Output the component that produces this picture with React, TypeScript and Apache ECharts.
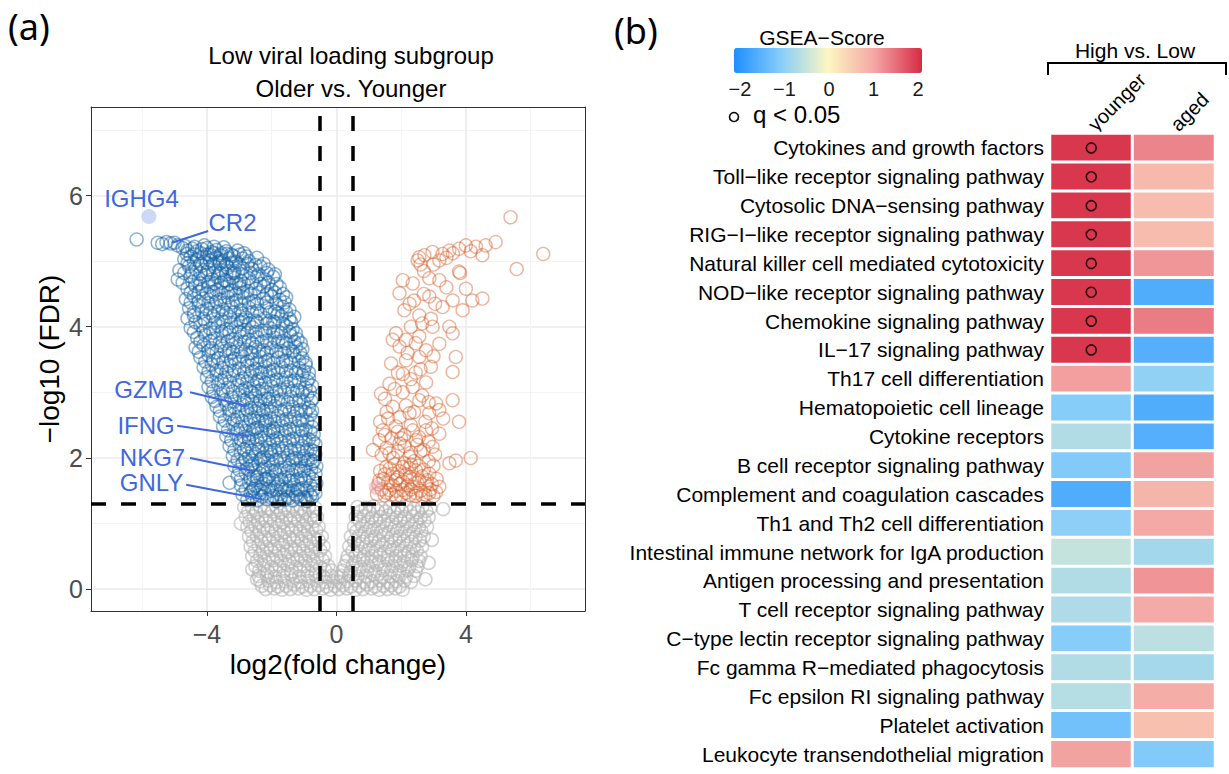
import React, { useEffect, useRef } from "react";
import * as echarts from "echarts";

const FONT = "'Liberation Sans', Arial, sans-serif";

// ---------- Panel (a): volcano plot data (log2FC, -log10 FDR) ----------
const downGenes: number[][] = [
  [-6.17,5.33],[-5.52,5.28],[-5.38,5.26],[-5.25,5.29],[-5.12,5.27],[-5.0,5.28],[-4.9,5.24],
  [-4.68,5.23],[-4.38,5.22],[-4.08,5.24],[-3.78,5.22],[-3.48,5.21],
  [-4.75,5.2],[-4.6,5.16],[-4.45,5.19],[-4.3,5.15],[-4.15,5.18],[-4.0,5.2],[-3.85,5.14],[-3.7,5.17],[-3.55,5.12],[-3.4,5.15],[-3.25,5.1],[-3.05,5.16],[-2.85,5.12],
  [-4.62,5.11],[-4.38,5.1],[-4.18,5.12],[-3.98,5.1],[-3.78,5.12],[-3.58,5.09],[-3.38,5.11],[-3.18,5.08],[-2.98,5.1],[-2.78,5.07],
  [-4.7,5.03],[-4.5,5.07],[-4.3,5.02],[-4.1,5.06],[-3.9,5.01],[-3.7,5.05],[-3.5,5.0],[-3.3,5.04],[-3.1,4.99],[-2.9,5.04],[-2.7,5.0],[-2.45,5.05],
  [-4.6,4.97],[-4.4,4.98],[-4.2,4.96],[-4.0,4.98],[-3.8,4.96],[-3.6,4.97],[-3.4,4.95],[-3.2,4.97],[-3.0,4.95],[-2.75,4.96],[-2.5,4.94],[-2.25,4.96],
  [-4.85,4.86],[-4.55,4.92],[-4.35,4.88],[-4.15,4.93],[-3.95,4.87],[-3.75,4.91],[-3.55,4.86],[-3.35,4.9],[-3.15,4.85],[-2.9,4.89],[-2.6,4.88],[-2.35,4.92],[-2.1,4.87],
  [-4.7,4.82],[-4.45,4.83],[-4.2,4.81],[-4.0,4.83],[-3.8,4.81],[-3.6,4.82],[-3.4,4.8],[-3.15,4.82],[-2.9,4.8],[-2.65,4.82],[-2.4,4.8],[-2.15,4.82],[-1.9,4.8],
  [-4.9,4.72],[-4.5,4.77],[-4.25,4.73],[-4.05,4.78],[-3.85,4.72],[-3.65,4.76],[-3.45,4.71],[-3.2,4.75],[-2.95,4.7],[-2.7,4.74],[-2.45,4.77],[-2.2,4.72],[-1.95,4.76],
  [-4.75,4.67],[-4.45,4.68],[-4.2,4.66],[-3.95,4.68],[-3.75,4.66],[-3.55,4.67],[-3.3,4.65],[-3.1,4.67],[-2.85,4.65],[-2.6,4.67],[-2.35,4.65],[-2.1,4.67],[-1.85,4.65],
  [-4.6,4.58],[-4.35,4.62],[-4.15,4.57],[-3.95,4.61],[-3.7,4.56],[-3.5,4.6],[-3.25,4.55],[-3.0,4.59],[-2.75,4.54],[-2.5,4.58],[-2.25,4.61],[-2.0,4.56],[-1.75,4.6],
  [-4.5,4.52],[-4.25,4.53],[-4.0,4.51],[-3.8,4.53],[-3.55,4.51],[-3.35,4.52],[-3.1,4.5],[-2.9,4.52],[-2.65,4.5],[-2.4,4.52],[-2.15,4.5],[-1.9,4.52],[-1.65,4.5],
  [-4.65,4.42],[-4.4,4.47],[-4.1,4.43],[-3.85,4.46],[-3.6,4.41],[-3.35,4.45],[-3.1,4.4],[-2.85,4.44],[-2.55,4.39],[-2.25,4.43],[-2.0,4.46],[-1.75,4.41],[-1.55,4.45],
  [-4.5,4.37],[-4.25,4.38],[-3.95,4.36],[-3.7,4.38],[-3.45,4.36],[-3.2,4.37],[-2.95,4.35],[-2.7,4.37],[-2.45,4.35],[-2.15,4.37],[-1.85,4.35],[-1.6,4.37],
  [-4.55,4.28],[-4.25,4.32],[-4.0,4.27],[-3.75,4.31],[-3.5,4.26],[-3.25,4.3],[-2.95,4.25],[-2.7,4.29],[-2.45,4.24],[-2.15,4.28],[-1.9,4.23],[-1.65,4.3],[-1.45,4.26],
  [-4.4,4.22],[-4.15,4.23],[-3.9,4.21],[-3.65,4.23],[-3.4,4.21],[-3.15,4.22],[-2.9,4.2],[-2.6,4.22],[-2.35,4.2],[-2.05,4.22],[-1.8,4.2],[-1.55,4.22],
  [-4.6,4.13],[-4.4,4.17],[-4.1,4.12],[-3.8,4.16],[-3.55,4.11],[-3.3,4.15],[-3.05,4.1],[-2.8,4.14],[-2.5,4.09],[-2.2,4.13],[-1.95,4.08],[-1.7,4.16],[-1.45,4.12],[-1.3,4.15],
  [-4.35,4.07],[-4.05,4.08],[-3.75,4.06],[-3.5,4.08],[-3.25,4.06],[-2.95,4.07],[-2.7,4.05],[-2.45,4.07],[-2.15,4.05],[-1.9,4.07],[-1.65,4.05],[-1.4,4.07],
  [-4.5,3.98],[-4.2,4.02],[-3.9,3.97],[-3.65,4.01],[-3.4,3.96],[-3.1,4.0],[-2.85,3.95],[-2.6,3.99],[-2.3,3.94],[-2.05,3.98],[-1.8,3.93],[-1.55,4.01],[-1.35,3.96],
  [-4.4,3.92],[-4.1,3.93],[-3.8,3.91],[-3.55,3.93],[-3.3,3.91],[-3.0,3.92],[-2.75,3.9],[-2.5,3.92],[-2.2,3.9],[-1.95,3.92],[-1.7,3.9],[-1.45,3.92],[-1.25,3.9],
  [-4.3,3.83],[-4.05,3.87],[-3.75,3.82],[-3.5,3.86],[-3.2,3.81],[-2.95,3.85],[-2.7,3.8],[-2.45,3.84],[-2.15,3.79],[-1.9,3.83],[-1.65,3.78],[-1.4,3.86],[-1.2,3.81],
  [-4.2,3.77],[-3.9,3.78],[-3.6,3.76],[-3.35,3.78],[-3.1,3.76],[-2.85,3.77],[-2.6,3.75],[-2.3,3.77],[-2.05,3.75],[-1.8,3.77],[-1.55,3.75],[-1.3,3.77],[-1.1,3.75],
  [-4.35,3.68],[-4.1,3.72],[-3.85,3.67],[-3.55,3.71],[-3.3,3.66],[-3.05,3.7],[-2.8,3.65],[-2.5,3.69],[-2.25,3.64],[-2.0,3.68],[-1.7,3.63],[-1.5,3.67],[-1.25,3.69],[-1.05,3.66],
  [-4.25,3.62],[-3.95,3.63],[-3.7,3.61],[-3.45,3.63],[-3.2,3.61],[-2.95,3.62],[-2.65,3.6],[-2.4,3.62],[-2.15,3.6],[-1.85,3.62],[-1.6,3.6],[-1.35,3.62],[-1.12,3.6],
  [-4.2,3.53],[-3.95,3.57],[-3.65,3.52],[-3.4,3.56],[-3.15,3.51],[-2.9,3.55],[-2.6,3.5],[-2.35,3.54],[-2.1,3.49],[-1.8,3.53],[-1.55,3.48],[-1.3,3.56],[-1.05,3.52],
  [-4.05,3.47],[-3.8,3.48],[-3.5,3.46],[-3.25,3.48],[-3.0,3.46],[-2.75,3.47],[-2.45,3.45],[-2.2,3.47],[-1.95,3.45],[-1.65,3.47],[-1.4,3.45],[-1.15,3.47],[-0.95,3.45],
  [-4.1,3.38],[-3.85,3.42],[-3.55,3.37],[-3.3,3.41],[-3.0,3.36],[-2.75,3.4],[-2.5,3.35],[-2.2,3.39],[-1.95,3.34],[-1.7,3.38],[-1.4,3.33],[-1.15,3.37],[-0.95,3.41],
  [-3.95,3.32],[-3.7,3.33],[-3.4,3.31],[-3.15,3.33],[-2.85,3.31],[-2.6,3.32],[-2.35,3.3],[-2.05,3.32],[-1.8,3.3],[-1.55,3.32],[-1.25,3.3],[-1.0,3.32],[-0.85,3.3],
  [-4.0,3.23],[-3.7,3.27],[-3.45,3.22],[-3.2,3.26],[-2.9,3.21],[-2.65,3.25],[-2.4,3.2],[-2.1,3.24],[-1.85,3.19],[-1.55,3.23],[-1.3,3.18],[-1.05,3.26],[-0.85,3.21],
  [-3.85,3.17],[-3.55,3.18],[-3.3,3.16],[-3.0,3.18],[-2.75,3.16],[-2.45,3.17],[-2.2,3.15],[-1.95,3.17],[-1.65,3.15],[-1.4,3.17],[-1.15,3.15],[-0.9,3.17],
  [-3.95,3.08],[-3.65,3.12],[-3.35,3.07],[-3.05,3.11],[-2.8,3.06],[-2.55,3.1],[-2.3,3.05],[-2.0,3.09],[-1.75,3.04],[-1.5,3.08],[-1.2,3.03],[-0.95,3.07],[-0.75,3.1],
  [-3.8,3.02],[-3.5,3.03],[-3.2,3.01],[-2.9,3.03],[-2.65,3.01],[-2.4,3.02],[-2.15,3.0],[-1.85,3.02],[-1.6,3.0],[-1.35,3.02],[-1.05,3.0],[-0.82,3.02],
  [-3.85,2.93],[-3.55,2.97],[-3.25,2.92],[-3.0,2.96],[-2.75,2.91],[-2.5,2.95],[-2.2,2.9],[-1.95,2.94],[-1.7,2.89],[-1.4,2.93],[-1.15,2.88],[-0.9,2.95],[-0.72,2.91],
  [-3.75,2.87],[-3.45,2.88],[-3.15,2.86],[-2.85,2.88],[-2.6,2.86],[-2.35,2.87],[-2.05,2.85],[-1.8,2.87],[-1.5,2.85],[-1.25,2.87],[-1.0,2.85],[-0.78,2.87],
  [-3.7,2.78],[-3.4,2.82],[-3.15,2.77],[-2.9,2.81],[-2.65,2.76],[-2.4,2.8],[-2.15,2.75],[-1.9,2.79],[-1.6,2.74],[-1.35,2.78],[-1.1,2.73],[-0.85,2.77],
  [-3.6,2.72],[-3.3,2.73],[-3.0,2.71],[-2.75,2.73],[-2.5,2.71],[-2.25,2.72],[-2.0,2.7],[-1.7,2.72],[-1.45,2.7],[-1.2,2.72],[-0.95,2.7],[-0.75,2.72],
  [-3.6,2.63],[-3.3,2.67],[-3.05,2.62],[-2.8,2.66],[-2.55,2.61],[-2.3,2.65],[-2.05,2.6],[-1.8,2.64],[-1.55,2.59],[-1.3,2.63],[-1.05,2.58],[-0.8,2.66],
  [-3.45,2.57],[-3.15,2.58],[-2.9,2.56],[-2.65,2.58],[-2.4,2.56],[-2.15,2.57],[-1.9,2.55],[-1.65,2.57],[-1.4,2.55],[-1.15,2.57],[-0.9,2.55],[-0.72,2.57],
  [-3.5,2.48],[-3.2,2.52],[-2.95,2.47],[-2.7,2.51],[-2.45,2.46],[-2.2,2.5],[-1.95,2.45],[-1.7,2.49],[-1.45,2.44],[-1.2,2.48],[-0.95,2.43],[-0.75,2.47],
  [-3.35,2.42],[-3.05,2.43],[-2.8,2.41],[-2.55,2.43],[-2.3,2.41],[-2.05,2.42],[-1.8,2.4],[-1.55,2.42],[-1.3,2.4],[-1.05,2.42],[-0.8,2.4],
  [-3.4,2.33],[-3.1,2.37],[-2.85,2.32],[-2.6,2.36],[-2.35,2.31],[-2.1,2.35],[-1.85,2.3],[-1.6,2.34],[-1.35,2.29],[-1.1,2.33],[-0.85,2.28],[-0.7,2.36],
  [-3.25,2.27],[-2.95,2.28],[-2.7,2.26],[-2.45,2.28],[-2.2,2.26],[-1.95,2.27],[-1.7,2.25],[-1.45,2.27],[-1.2,2.25],[-0.95,2.27],[-0.72,2.25],
  [-3.3,2.18],[-3.0,2.22],[-2.75,2.17],[-2.5,2.21],[-2.3,2.16],[-2.05,2.2],[-1.8,2.15],[-1.55,2.19],[-1.3,2.14],[-1.05,2.18],[-0.8,2.13],[-0.65,2.21],
  [-3.15,2.12],[-2.85,2.13],[-2.6,2.11],[-2.4,2.13],[-2.15,2.11],[-1.9,2.12],[-1.65,2.1],[-1.4,2.12],[-1.15,2.1],[-0.9,2.12],[-0.7,2.1],
  [-3.2,2.03],[-2.95,2.07],[-2.7,2.02],[-2.5,2.06],[-2.25,2.01],[-2.0,2.05],[-1.75,2.0],[-1.5,2.04],[-1.25,1.99],[-1.0,2.03],[-0.8,1.98],[-0.65,2.06],
  [-3.05,1.97],[-2.8,1.98],[-2.6,1.96],[-2.35,1.98],[-2.1,1.96],[-1.85,1.97],[-1.6,1.95],[-1.35,1.97],[-1.1,1.95],[-0.88,1.97],[-0.7,1.95],
  [-3.15,1.88],[-2.9,1.92],[-2.65,1.87],[-2.4,1.91],[-2.2,1.86],[-1.95,1.9],[-1.7,1.85],[-1.45,1.89],[-1.2,1.84],[-0.95,1.88],[-0.75,1.91],[-0.62,1.87],
  [-3.0,1.82],[-2.75,1.83],[-2.5,1.81],[-2.25,1.83],[-2.0,1.81],[-1.75,1.82],[-1.5,1.8],[-1.25,1.82],[-1.0,1.8],[-0.78,1.82],
  [-3.05,1.73],[-2.8,1.77],[-2.55,1.72],[-2.35,1.76],[-2.1,1.71],[-1.85,1.75],[-1.6,1.7],[-1.35,1.74],[-1.1,1.69],[-0.85,1.73],[-0.65,1.76],
  [-2.95,1.67],[-2.65,1.68],[-2.45,1.66],[-2.2,1.68],[-1.95,1.66],[-1.7,1.67],[-1.45,1.65],[-1.2,1.67],[-0.95,1.65],[-0.72,1.67],
  [-3.3,1.62],[-2.95,1.58],[-2.7,1.62],[-2.5,1.57],[-2.25,1.61],[-2.05,1.56],[-1.8,1.6],[-1.55,1.55],[-1.3,1.59],[-1.05,1.54],[-0.8,1.58],[-0.62,1.61],
  [-2.8,1.52],[-2.55,1.53],[-2.35,1.51],[-2.1,1.53],[-1.85,1.51],[-1.6,1.52],[-1.35,1.5],[-1.1,1.52],[-0.9,1.5],[-0.7,1.52],
  [-2.9,1.44],[-2.65,1.47],[-2.4,1.43],[-2.2,1.46],[-1.95,1.42],[-1.75,1.45],[-1.5,1.41],[-1.25,1.44],[-1.0,1.4],[-0.8,1.43],[-0.65,1.46],
  [-2.6,1.4],[-2.3,1.41],[-2.0,1.39],[-1.7,1.4],[-1.45,1.39],[-1.2,1.41],[-0.95,1.39],[-0.75,1.4],
  [-2.75,1.36],[-2.45,1.35],[-2.15,1.37],[-1.85,1.34],[-1.6,1.36],[-1.35,1.35],[-1.1,1.37],[-0.9,1.34],
  [-2.6,1.5],[-2.3,1.55],[-2.0,1.5],[-1.7,1.55],[-2.45,1.7],[-2.15,1.68],[-1.9,1.8],[-2.6,1.9],[-2.3,2.0],[-2.05,2.1],
  [-2.7,2.3],[-2.5,2.45],[-2.2,2.55],[-1.95,2.4],[-2.4,2.75],[-2.1,2.9],[-2.6,3.0],[-3.0,4.65],[-3.2,4.82],[-3.6,5.0],
  [-3.9,5.1],[-3.4,4.7],[-2.9,4.1],[-2.6,3.6],[-2.3,3.3],[-1.5,1.5],[-1.2,1.52],[-1.4,1.65],[-1.1,1.8],[-1.3,2.0]
];

const upGenes: number[][] = [
  [5.38,5.67],[6.39,5.11],[5.57,4.88],[4.92,5.29],[4.61,5.24],[4.31,5.22],[4.0,5.24],[3.79,5.19],[3.49,5.16],
  [3.28,5.11],[2.97,5.14],[2.72,5.09],[2.51,5.01],[2.56,5.06],[3.18,5.01],[4.51,5.09],[3.79,4.84],[3.82,4.82],
  [4.0,4.58],[4.51,4.43],[4.2,4.4],[2.05,4.71],[1.95,4.51],[2.36,4.66],[2.87,4.74],[3.18,4.71],[2.87,4.46],
  [2.26,4.35],[2.56,4.17],[2.92,4.12],[3.28,4.3],[3.59,4.4],[3.9,4.25],[1.84,3.9],[1.74,3.8],[2.15,3.8],
  [2.56,3.85],[2.97,4.0],[3.49,4.0],[3.59,3.9],[2.77,3.64],[3.18,3.74],[3.69,3.54],[1.69,3.44],[2.15,3.49],
  [2.56,3.54],[2.92,3.39],[3.59,3.31],[1.64,3.13],[2.05,3.28],[2.36,3.08],[2.77,3.15],[1.38,2.98],[2.05,3.0],
  [2.56,2.88],[3.08,2.83],[3.59,2.88],[1.74,2.78],[2.26,2.68],[2.87,2.68],[3.18,2.73],[3.79,2.55],[1.43,2.42],
  [1.84,2.48],[2.36,2.42],[2.77,2.42],[3.18,2.37],[1.33,2.27],[1.95,2.22],[2.46,2.27],[2.97,2.17],[1.13,2.12],
  [1.64,2.07],[2.26,2.02],[3.49,1.92],[4.15,2.0],[3.69,1.96],[1.54,1.86],[2.05,1.86],[2.46,1.81],[2.87,1.76],
  [1.33,1.66],[1.84,1.66],[2.26,1.71],[2.77,1.61],[3.18,1.56],[1.64,1.51],[2.05,1.51],[2.46,1.46],[2.87,1.46],
  [1.49,1.43],[1.84,1.41],[2.26,1.43],[2.67,1.41],[3.08,1.48],[1.95,1.6],[2.36,1.56],[2.15,1.75],[1.74,1.76],
  [2.56,1.66],[2.0,2.3],[2.6,2.1],[2.3,1.9],[1.6,2.6],[2.45,3.3],[3.0,3.55],[2.3,4.0],[2.7,4.5],[3.4,4.6],
  [1.25,1.45],[1.4,1.52],[1.55,1.47],[1.7,1.44],[1.85,1.5],[2.0,1.42],[2.15,1.47],[2.3,1.52],[2.45,1.42],[2.6,1.5],[2.75,1.44],[2.9,1.52],[3.0,1.42],
  [1.3,1.6],[1.45,1.68],[1.6,1.62],[1.75,1.58],[1.9,1.7],[2.05,1.64],[2.2,1.58],[2.35,1.68],[2.5,1.62],[2.65,1.72],[2.8,1.66],[2.95,1.6],[3.1,1.68],
  [1.35,1.8],[1.5,1.75],[1.65,1.84],[1.8,1.9],[1.95,1.8],[2.1,1.92],[2.25,1.85],[2.4,1.95],[2.55,1.88],[2.7,1.82],[2.85,1.95],[3.0,1.88],
  [1.4,2.05],[1.55,2.15],[1.75,2.0],[1.9,2.1],[2.1,2.18],[2.3,2.08],[2.5,2.2],[2.7,2.12],[2.85,2.25],[3.05,2.05],
  [1.5,2.35],[1.7,2.3],[1.9,2.4],[2.1,2.35],[2.3,2.5],[2.55,2.32],[2.75,2.55],[2.95,2.45],[1.35,2.55],
  [1.55,2.7],[1.95,2.62],[2.15,2.8],[2.4,2.7],[2.65,2.95],[2.85,2.85],[3.3,2.6],[1.5,2.9],[1.8,3.05],[2.3,3.2],
  [2.6,3.35],[1.9,3.3],[2.2,3.6],[2.45,3.75],[1.95,3.7],[2.65,4.05],[2.1,4.25],[2.4,4.4],[3.05,4.35],[2.7,4.85],
  [3.4,5.05],[3.6,5.12],[4.15,5.15],[2.6,4.95],[3.0,4.95]
];

const nsGenes: number[][] = [
  [-2.85,1.25],[-2.6,1.24],[-2.35,1.26],[-2.1,1.23],[-1.85,1.25],[-1.6,1.24],[-1.35,1.26],[-1.1,1.23],[-0.85,1.25],[-0.65,1.24],
  [-2.72,1.18],[-2.48,1.17],[-2.22,1.19],[-1.98,1.18],[-1.72,1.17],[-1.48,1.19],[-1.22,1.18],[-0.98,1.17],[-0.72,1.19],
  [-2.8,1.1],[-2.55,1.11],[-2.3,1.09],[-2.05,1.1],[-1.8,1.12],[-1.55,1.09],[-1.3,1.1],[-1.05,1.11],[-0.8,1.09],[-0.6,1.1],
  [-2.68,1.03],[-2.42,1.02],[-2.18,1.04],[-1.92,1.03],[-1.68,1.02],[-1.42,1.04],[-1.18,1.03],[-0.92,1.02],[-0.68,1.04],
  [-2.75,0.95],[-2.5,0.96],[-2.25,0.94],[-2.0,0.95],[-1.75,0.97],[-1.5,0.94],[-1.25,0.95],[-1.0,0.96],[-0.75,0.94],[-0.55,0.95],
  [-2.62,0.88],[-2.38,0.87],[-2.12,0.89],[-1.88,0.88],[-1.62,0.87],[-1.38,0.89],[-1.12,0.88],[-0.88,0.87],[-0.62,0.89],
  [-2.7,0.8],[-2.45,0.81],[-2.2,0.79],[-1.95,0.8],[-1.7,0.82],[-1.45,0.79],[-1.2,0.8],[-0.95,0.81],[-0.7,0.79],[-0.45,0.8],
  [-2.58,0.73],[-2.32,0.72],[-2.08,0.74],[-1.82,0.73],[-1.58,0.72],[-1.32,0.74],[-1.08,0.73],[-0.82,0.72],[-0.55,0.74],
  [-2.65,0.65],[-2.4,0.66],[-2.15,0.64],[-1.9,0.65],[-1.65,0.67],[-1.4,0.64],[-1.15,0.65],[-0.9,0.66],[-0.65,0.64],[-0.4,0.65],
  [-2.52,0.58],[-2.28,0.57],[-2.02,0.59],[-1.78,0.58],[-1.52,0.57],[-1.28,0.59],[-1.02,0.58],[-0.78,0.57],[-0.5,0.59],
  [-2.6,0.5],[-2.35,0.51],[-2.1,0.49],[-1.85,0.5],[-1.6,0.52],[-1.35,0.49],[-1.1,0.5],[-0.85,0.51],[-0.6,0.49],[-0.35,0.5],
  [-2.45,0.43],[-2.2,0.42],[-1.95,0.44],[-1.7,0.43],[-1.45,0.42],[-1.2,0.44],[-0.95,0.43],[-0.7,0.42],[-0.42,0.44],
  [-2.5,0.35],[-2.25,0.36],[-2.0,0.34],[-1.75,0.35],[-1.5,0.37],[-1.25,0.34],[-1.0,0.35],[-0.75,0.36],[-0.5,0.34],[-0.25,0.35],
  [-2.38,0.28],[-2.12,0.27],[-1.88,0.29],[-1.62,0.28],[-1.38,0.27],[-1.12,0.29],[-0.88,0.28],[-0.62,0.27],[-0.35,0.29],[-0.15,0.28],
  [-2.4,0.2],[-2.15,0.21],[-1.9,0.19],[-1.65,0.2],[-1.4,0.22],[-1.15,0.19],[-0.9,0.2],[-0.65,0.21],[-0.4,0.19],[-0.15,0.2],[0.05,0.18],
  [-2.35,0.12],[-2.1,0.13],[-1.85,0.11],[-1.6,0.12],[-1.35,0.13],[-1.1,0.11],[-0.85,0.12],[-0.6,0.13],[-0.35,0.11],[-0.1,0.12],
  [0.12,0.11],[0.35,0.12],[0.6,0.13],[0.85,0.11],[1.1,0.12],[1.35,0.13],[1.6,0.11],[1.85,0.12],[2.1,0.13],[2.3,0.11],
  [-2.3,0.05],[-2.05,0.06],[-1.8,0.04],[-1.55,0.05],[-1.3,0.07],[-1.05,0.04],[-0.8,0.05],[-0.55,0.06],[-0.3,0.04],[-0.05,0.05],
  [0.2,0.06],[0.45,0.04],[0.7,0.05],[0.95,0.07],[1.2,0.04],[1.45,0.05],[1.7,0.06],[1.95,0.04],
  [-2.18,0.0],[-1.92,0.01],[-1.68,-0.01],[-1.42,0.0],[-1.18,0.01],[-0.92,-0.01],[-0.68,0.0],[-0.42,0.01],[-0.18,-0.01],
  [0.08,0.0],[0.32,0.01],[0.58,-0.01],[0.82,0.0],[1.08,0.01],[1.32,-0.01],[1.58,0.0],[1.82,0.01],[2.05,-0.01],
  [0.65,1.25],[0.9,1.24],[1.15,1.26],[1.4,1.23],[1.65,1.25],[1.9,1.24],[2.15,1.26],[2.4,1.23],[2.65,1.25],[2.9,1.24],
  [0.75,1.18],[1.02,1.17],[1.28,1.19],[1.52,1.18],[1.78,1.17],[2.02,1.19],[2.28,1.18],[2.52,1.17],[2.78,1.19],
  [0.6,1.1],[0.85,1.11],[1.1,1.09],[1.35,1.1],[1.6,1.12],[1.85,1.09],[2.1,1.1],[2.35,1.11],[2.6,1.09],[2.85,1.1],
  [0.72,1.03],[0.98,1.02],[1.22,1.04],[1.48,1.03],[1.72,1.02],[1.98,1.04],[2.22,1.03],[2.48,1.02],[2.72,1.04],
  [0.55,0.95],[0.8,0.96],[1.05,0.94],[1.3,0.95],[1.55,0.97],[1.8,0.94],[2.05,0.95],[2.3,0.96],[2.55,0.94],[2.8,0.95],
  [0.62,0.88],[0.88,0.87],[1.12,0.89],[1.38,0.88],[1.62,0.87],[1.88,0.89],[2.12,0.88],[2.38,0.87],[2.62,0.89],
  [0.45,0.8],[0.7,0.81],[0.95,0.79],[1.2,0.8],[1.45,0.82],[1.7,0.79],[1.95,0.8],[2.2,0.81],[2.45,0.79],[2.7,0.8],
  [0.55,0.73],[0.82,0.72],[1.08,0.74],[1.32,0.73],[1.58,0.72],[1.82,0.74],[2.08,0.73],[2.32,0.72],[2.58,0.74],
  [0.4,0.65],[0.65,0.66],[0.9,0.64],[1.15,0.65],[1.4,0.67],[1.65,0.64],[1.9,0.65],[2.15,0.66],[2.4,0.64],[2.65,0.65],
  [0.5,0.58],[0.72,0.57],[0.98,0.59],[1.22,0.58],[1.48,0.57],[1.72,0.59],[1.98,0.58],[2.22,0.57],[2.48,0.59],
  [0.35,0.5],[0.6,0.51],[0.85,0.49],[1.1,0.5],[1.35,0.52],[1.6,0.49],[1.85,0.5],[2.1,0.51],[2.35,0.49],[2.6,0.5],
  [0.32,0.43],[0.58,0.42],[0.82,0.44],[1.08,0.43],[1.32,0.42],[1.58,0.44],[1.82,0.43],[2.08,0.42],[2.32,0.44],[2.55,0.43],
  [0.25,0.35],[0.5,0.36],[0.75,0.34],[1.0,0.35],[1.25,0.37],[1.5,0.34],[1.75,0.35],[2.0,0.36],[2.25,0.34],[2.5,0.35],
  [0.2,0.28],[0.45,0.27],[0.7,0.29],[0.95,0.28],[1.2,0.27],[1.45,0.29],[1.7,0.28],[1.95,0.27],[2.2,0.29],[2.45,0.28],
  [0.15,0.2],[0.4,0.21],[0.65,0.19],[0.9,0.2],[1.15,0.22],[1.4,0.19],[1.65,0.2],[1.9,0.21],[2.15,0.19],[2.4,0.2],
  [3.3,1.22],[2.95,0.75],[2.85,0.4],[-2.95,1.0],[-2.45,0.15],[2.75,0.15],[-2.6,0.3]
];

const highlightedDown: number[][] = [[-5.79, 5.68]];
const highlightedUp: number[][] = [[1.23, 1.55]];

// label centre and connector (from, to), all in data coordinates
const geneLabels = [
  { name: "IGHG4", at: [-6.02, 5.95], from: null, to: null },
  { name: "CR2", at: [-3.21, 5.59], from: [-3.96, 5.46], to: [-5.08, 5.28] },
  { name: "GZMB", at: [-5.79, 3.04], from: [-4.52, 3.0], to: [-2.77, 2.79] },
  { name: "IFNG", at: [-5.88, 2.49], from: [-4.92, 2.49], to: [-2.7, 2.33] },
  { name: "NKG7", at: [-5.68, 2.0], from: [-4.52, 2.0], to: [-2.57, 1.8] },
  { name: "GNLY", at: [-5.71, 1.62], from: [-4.64, 1.59], to: [-2.3, 1.37] },
];

const log2fcCut = 0.5;
const fdrCut = 1.301;
const xTicks = [-4, 0, 4];
const yTicks = [0, 2, 4, 6];

// ---------- Panel (b): GSEA heatmap ----------
const groups = ["younger", "aged"];
const pathways = [
  "Cytokines and growth factors",
  "Toll\u2212like receptor signaling pathway",
  "Cytosolic DNA\u2212sensing pathway",
  "RIG\u2212I\u2212like receptor signaling pathway",
  "Natural killer cell mediated cytotoxicity",
  "NOD\u2212like receptor signaling pathway",
  "Chemokine signaling pathway",
  "IL\u221217 signaling pathway",
  "Th17 cell differentiation",
  "Hematopoietic cell lineage",
  "Cytokine receptors",
  "B cell receptor signaling pathway",
  "Complement and coagulation cascades",
  "Th1 and Th2 cell differentiation",
  "Intestinal immune network for IgA production",
  "Antigen processing and presentation",
  "T cell receptor signaling pathway",
  "C\u2212type lectin receptor signaling pathway",
  "Fc gamma R\u2212mediated phagocytosis",
  "Fc epsilon RI signaling pathway",
  "Platelet activation",
  "Leukocyte transendothelial migration",
];
const scoreYounger = [2.0, 2.0, 2.0, 2.0, 2.0, 2.0, 2.0, 2.0, 1.1, -1.05, -0.67, -1.1, -1.6, -1.0, -0.5, -0.67, -0.7, -1.05, -0.67, -0.64, -1.25, 1.08];
const scoreAged = [1.33, 0.8, 0.75, 0.75, 1.19, -1.6, 1.4, -1.55, -0.96, -1.6, -1.55, 1.08, 0.85, 1.0, -0.8, 1.2, 0.98, -0.58, -0.78, 0.95, 0.7, -1.1];
const sigYounger = [true, true, true, true, true, true, true, true, false, false, false, false, false, false, false, false, false, false, false, false, false, false];
const sigAged = pathways.map(() => false);
const scoreColors = ["#1E8FFF", "#87CDF9", "#FDF7C3", "#F4A5A5", "#D62B45"];

const minus = (v: number) => (v < 0 ? "\u2212" + Math.abs(v) : String(v));

export default function App() {
  const ref = useRef<HTMLDivElement>(null);

  useEffect(() => {
    if (!ref.current) return;
    const chart = echarts.init(ref.current, undefined, { renderer: "svg" });

    const heatData: number[][] = [];
    pathways.forEach((_, i) => {
      heatData.push([0, i, scoreYounger[i]]);
      heatData.push([1, i, scoreAged[i]]);
    });
    const sigData: number[][] = [];
    pathways.forEach((_, i) => {
      if (sigYounger[i]) sigData.push([0, i]);
      if (sigAged[i]) sigData.push([1, i]);
    });

    const gridLine = { show: true, lineStyle: { color: "#ebebeb", width: 1.6 } };
    const minorLine = { show: true, lineStyle: { color: "#f4f4f4", width: 1 } };

    const option: any = {
      animation: false,
      textStyle: { fontFamily: FONT },
      grid: [
        { left: 91, top: 107, width: 494, height: 504 },
        { left: 1050, top: 133.5, width: 165, height: 635 },
        { left: 740, top: 48, width: 178, height: 25 },
      ],
      xAxis: [
        {
          gridIndex: 0, type: "value", min: -7.58, max: 7.68, minInterval: 4, maxInterval: 4,
          axisLine: { show: true, onZero: false, lineStyle: { color: "#333", width: 1 } },
          axisTick: { show: true, length: 5, customValues: xTicks, lineStyle: { color: "#333", width: 1 } },
          axisLabel: { customValues: xTicks, formatter: minus, fontSize: 25, color: "#4d4d4d", margin: 10 },
          splitLine: gridLine,
          minorTick: { show: false, splitNumber: 2 },
          minorSplitLine: minorLine,
          name: "log2(fold change)", nameLocation: "middle", nameGap: 36,
          nameTextStyle: { fontSize: 28, color: "#000" },
        },
        {
          gridIndex: 0, type: "value", position: "top", min: -7.58, max: 7.68,
          axisLine: { show: true, onZero: false, lineStyle: { color: "#333", width: 1 } },
          axisTick: { show: false }, axisLabel: { show: false }, splitLine: { show: false },
        },
        {
          gridIndex: 1, type: "category", data: groups, position: "top",
          axisLine: { show: false }, axisTick: { show: false },
          axisLabel: { rotate: -45, align: "left", verticalAlign: "middle", fontSize: 20, color: "#000", margin: 6 },
          splitLine: { show: false },
        },
        {
          gridIndex: 2, type: "value", min: -2, max: 2, interval: 1, position: "bottom",
          axisLine: { show: false },
          axisTick: { inside: true, length: 5, lineStyle: { color: "#fff", width: 1.5 } },
          axisLabel: { formatter: minus, fontSize: 20, color: "#1a1a1a", margin: 6 },
          splitLine: { show: false },
        },
        {
          gridIndex: 2, type: "value", min: -2, max: 2, interval: 1, position: "top",
          axisLine: { show: false },
          axisTick: { inside: true, length: 5, lineStyle: { color: "#fff", width: 1.5 } },
          axisLabel: { show: false }, splitLine: { show: false },
        },
      ],
      yAxis: [
        {
          gridIndex: 0, type: "value", min: -0.334, max: 7.35, minInterval: 2, maxInterval: 2,
          axisLine: { show: true, onZero: false, lineStyle: { color: "#333", width: 1 } },
          axisTick: { show: true, length: 5, customValues: yTicks, lineStyle: { color: "#333", width: 1 } },
          axisLabel: { customValues: yTicks, fontSize: 25, color: "#4d4d4d", margin: 8 },
          splitLine: gridLine,
          minorTick: { show: false, splitNumber: 2 },
          minorSplitLine: minorLine,
          name: "\u2212log10 (FDR)", nameLocation: "middle", nameGap: 28,
          nameTextStyle: { fontSize: 28, color: "#000" },
        },
        {
          gridIndex: 0, type: "value", position: "right", min: -0.334, max: 7.35,
          axisLine: { show: true, onZero: false, lineStyle: { color: "#333", width: 1 } },
          axisTick: { show: false }, axisLabel: { show: false }, splitLine: { show: false },
        },
        {
          gridIndex: 1, type: "category", data: pathways, inverse: true,
          axisLine: { show: false }, axisTick: { show: false },
          axisLabel: { fontSize: 21, color: "#000", margin: 6 },
          splitLine: { show: false },
        },
        {
          gridIndex: 2, type: "value", min: 0, max: 1, show: false,
        },
      ],
      visualMap: {
        type: "continuous", min: -2.1, max: 2.1, seriesIndex: 6, dimension: 2,
        orient: "horizontal", left: 734, top: 48, itemWidth: 25, itemHeight: 188,
        calculable: false, padding: 0, text: null, hoverLink: false,
        inRange: { color: scoreColors },
      },
      graphic: [
        { type: "text", x: 8, y: 8, style: { text: "(a)", font: "36px 'Noto Sans', sans-serif", fill: "#000", textAlign: "left", textVerticalAlign: "top" } },
        { type: "text", x: 614, y: 12, style: { text: "(b)", font: "36px 'Noto Sans', sans-serif", fill: "#000", textAlign: "left", textVerticalAlign: "top" } },
        { type: "text", x: 351, y: 55, style: { text: "Low viral loading subgroup", font: `24px ${FONT}`, fill: "#000", textAlign: "center", textVerticalAlign: "middle" } },
        { type: "text", x: 351, y: 88, style: { text: "Older vs. Younger", font: `24px ${FONT}`, fill: "#000", textAlign: "center", textVerticalAlign: "middle" } },
        { type: "text", x: 822, y: 37, style: { text: "GSEA\u2212Score", font: `21px ${FONT}`, fill: "#000", textAlign: "center", textVerticalAlign: "middle" } },
        { type: "circle", shape: { cx: 734, cy: 117, r: 4.5 }, style: { fill: "none", stroke: "#000", lineWidth: 1.6 } },
        { type: "text", x: 753, y: 114, style: { text: "q < 0.05", font: `24px ${FONT}`, fill: "#000", textAlign: "left", textVerticalAlign: "middle" } },
        { type: "text", x: 1135, y: 50, style: { text: "High vs. Low", font: `21px ${FONT}`, fill: "#000", textAlign: "center", textVerticalAlign: "middle" } },
        { type: "polyline", shape: { points: [[1048, 75], [1048, 63], [1226, 63], [1226, 75]] }, style: { fill: "none", stroke: "#000", lineWidth: 2 } },
      ],
      series: [
        {
          type: "scatter", name: "NS", xAxisIndex: 0, yAxisIndex: 0, data: nsGenes, symbolSize: 13,
          itemStyle: { color: "rgba(0,0,0,0)", borderColor: "rgba(180,180,180,0.75)", borderWidth: 1.6 },
        },
        {
          type: "scatter", name: "Down", xAxisIndex: 0, yAxisIndex: 0, data: downGenes, symbolSize: 13,
          itemStyle: { color: "rgba(0,0,0,0)", borderColor: "rgba(18,98,166,0.6)", borderWidth: 1.5 },
        },
        {
          type: "scatter", name: "Up", xAxisIndex: 0, yAxisIndex: 0, data: upGenes, symbolSize: 13,
          itemStyle: { color: "rgba(0,0,0,0)", borderColor: "rgba(212,88,34,0.55)", borderWidth: 1.4 },
        },
        {
          type: "scatter", name: "HighlightDown", xAxisIndex: 0, yAxisIndex: 0, data: highlightedDown, symbolSize: 15,
          itemStyle: { color: "rgba(160,180,238,0.65)" },
        },
        {
          type: "scatter", name: "HighlightUp", xAxisIndex: 0, yAxisIndex: 0, data: highlightedUp, symbolSize: 15,
          itemStyle: { color: "rgba(228,160,170,0.6)" },
        },
        {
          type: "scatter", name: "Labels", xAxisIndex: 0, yAxisIndex: 0, z: 6,
          data: geneLabels.map((g) => ({ name: g.name, value: g.at })),
          symbolSize: 1, itemStyle: { color: "rgba(0,0,0,0)" },
          label: {
            show: true, position: "inside", formatter: "{b}", fontSize: 24, color: "#3F67E0",
            fontFamily: FONT, textBorderWidth: 0, textBorderColor: "transparent", opacity: 1,
          },
          markLine: {
            silent: true, symbol: ["none", "none"], label: { show: false },
            lineStyle: { color: "#3F67E0", type: "solid", width: 2 },
            data: geneLabels.filter((g) => g.from).map((g) => [{ coord: g.from }, { coord: g.to }]),
          },
        },
        {
          type: "heatmap", name: "GSEA", xAxisIndex: 2, yAxisIndex: 2, data: heatData,
          itemStyle: { borderColor: "#fff", borderWidth: 3 },
        },
        {
          type: "scatter", name: "q<0.05", xAxisIndex: 2, yAxisIndex: 2, data: sigData, symbolSize: 10, z: 5,
          itemStyle: { color: "rgba(0,0,0,0)", borderColor: "#000", borderWidth: 1.6 },
        },
        {
          type: "scatter", name: "Thresholds", xAxisIndex: 0, yAxisIndex: 0, data: [], z: 5,
          markLine: {
            silent: true, symbol: ["none", "none"], label: { show: false },
            lineStyle: { color: "#000", type: [15, 15], width: 3.5 },
            data: [{ xAxis: -log2fcCut }, { xAxis: log2fcCut }, { yAxis: fdrCut }],
          },
        },
      ],
    };

    chart.setOption(option);
    return () => chart.dispose();
  }, []);

  return <div ref={ref} style={{ position: "absolute", left: 0, top: 0, width: 1229, height: 774 }} />;
}
